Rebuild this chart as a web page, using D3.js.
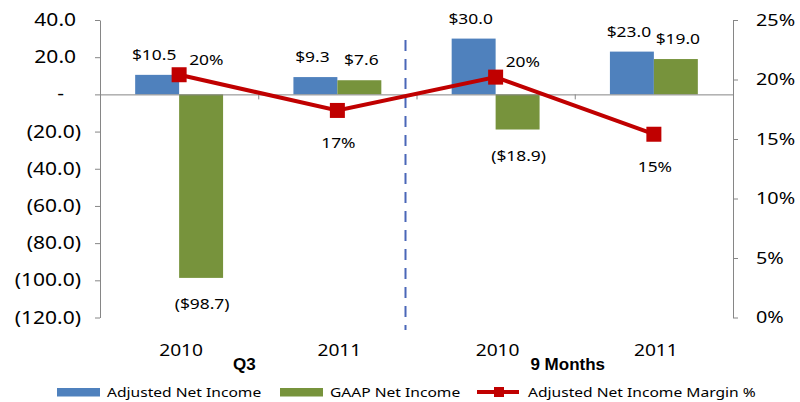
<!DOCTYPE html>
<html lang="en">
<head>
    <meta charset="UTF-8">
    <title>Net Income</title>
    <style>
        body { margin: 0; background: #fff; }
        text { font-family: "Noto Sans", sans-serif; fill: #000; }
    </style>
</head>
<body>
<script type='text/javascript' src='https://d3js.org/d3.v7.min.js'></script>
<script>
    // chart data
    const categories = ["2010", "2011", "2010", "2011"];
    const groups = ["Q3", "9 Months"];
    const adjustedNetIncome = [10.5, 9.3, 30.0, 23.0];
    const gaapNetIncome = [-98.7, 7.6, -18.9, 19.0];
    const marginPct = [20.4, 17.4, 20.2, 15.4];
    const marginLabels = ["20%", "17%", "20%", "15%"];
    const leftTicks = [-120, -100, -80, -60, -40, -20, 0, 20, 40];
    const rightTicks = [0, 5, 10, 15, 20, 25];
    const seriesNames = ["Adjusted Net Income", "GAAP Net Income", "Adjusted Net Income Margin %"];

    const blue = "#4f81bd", green = "#77933c", red = "#c00000", axisGrey = "#868686";
    const SX = 1.2; // the source text is drawn a bit wide

    const width = 800, height = 402;
    const plotLeft = 100, plotRight = 733, plotTop = 20, plotBottom = 317.5;

    const svg = d3.select("body").append("svg")
        .attr("width", width)
        .attr("height", height);

    const x = d3.scaleBand()
        .domain(d3.range(categories.length))
        .range([plotLeft, plotRight]);
    const xSub = d3.scaleBand()
        .domain(["adj", "gaap"])
        .range([0, x.bandwidth()])
        .paddingOuter(0.8);
    const xb = d3.scaleLinear().domain([0, categories.length]).range([plotLeft, plotRight]);
    const yL = d3.scaleLinear().domain([-120, 40]).range([plotBottom, plotTop]);
    const yR = d3.scaleLinear().domain([0, 25]).range([plotBottom, plotTop]);

    // text helper, scaled horizontally
    function label(g, px, py, txt, anchor, size, bold) {
        g.append("g")
            .attr("transform", `translate(${px},${py}) scale(${SX},1)`)
            .append("text")
            .attr("text-anchor", anchor || "middle")
            .style("font-size", (size || 14) + "px")
            .style("font-weight", bold ? "bold" : null)
            .text(txt);
    }

    // bars
    const bars = svg.append("g");
    bars.selectAll(".adj")
        .data(adjustedNetIncome)
        .join("rect")
        .attr("x", (d, i) => x(i) + xSub("adj"))
        .attr("width", xSub.bandwidth())
        .attr("y", d => yL(Math.max(0, d)))
        .attr("height", d => Math.abs(yL(d) - yL(0)))
        .attr("fill", blue);
    bars.selectAll(".gaap")
        .data(gaapNetIncome)
        .join("rect")
        .attr("x", (d, i) => x(i) + xSub("gaap"))
        .attr("width", xSub.bandwidth())
        .attr("y", d => yL(Math.max(0, d)))
        .attr("height", d => Math.abs(yL(d) - yL(0)))
        .attr("fill", green);

    // x axis line with category boundary ticks
    svg.append("g")
        .attr("transform", `translate(0,${yL(0)})`)
        .call(d3.axisBottom(xb).tickValues([1, 2, 3]).tickSize(5).tickSizeOuter(0).tickFormat(""))
        .attr("color", axisGrey);

    // left axis
    const fmt = d3.format(".1f");
    const leftAxis = svg.append("g")
        .attr("transform", `translate(${plotLeft},0)`)
        .call(d3.axisLeft(yL).tickValues(leftTicks).tickSize(5).tickSizeOuter(0)
            .tickFormat(v => v === 0 ? "-" : v < 0 ? "(" + fmt(-v) + ")" : fmt(v)))
        .attr("color", axisGrey);
    leftAxis.selectAll("text")
        .attr("x", d => (d === 0 ? -36 : d < 0 ? -19 : -24) / SX)
        .attr("transform", `scale(${SX},1)`)
        .style("font-size", "17.5px")
        .style("font-family", "Noto Sans")
        .attr("fill", "#000");

    // right axis
    const rightAxis = svg.append("g")
        .attr("transform", `translate(${plotRight},0)`)
        .call(d3.axisRight(yR).tickValues(rightTicks).tickSize(5).tickSizeOuter(0)
            .tickFormat(v => v + "%"))
        .attr("color", axisGrey);
    rightAxis.selectAll("text")
        .attr("x", 23 / SX)
        .attr("transform", `scale(${SX},1)`)
        .style("font-size", "16.5px")
        .style("font-family", "Noto Sans")
        .attr("fill", "#000");

    // dashed separator between Q3 and 9 Months
    svg.append("line")
        .attr("x1", x(2) - 11).attr("x2", x(2) - 11)
        .attr("y1", 40).attr("y2", 330)
        .attr("stroke", "#4a67b8")
        .attr("stroke-width", 2)
        .attr("stroke-dasharray", "11,8");

    // margin line
    const line = d3.line()
        .x((d, i) => x(i) + x.bandwidth() / 2)
        .y(d => yR(d));
    svg.append("path")
        .datum(marginPct)
        .attr("fill", "none")
        .attr("stroke", red)
        .attr("stroke-width", 4)
        .attr("d", line);
    svg.selectAll(".mk")
        .data(marginPct)
        .join("rect")
        .attr("x", (d, i) => x(i) + x.bandwidth() / 2 - 7.5)
        .attr("y", d => yR(d) - 7.5)
        .attr("width", 15)
        .attr("height", 15)
        .attr("fill", red);

    // data labels
    const lbl = svg.append("g");
    const money = v => v < 0 ? "($" + fmt(-v) + ")" : "$" + fmt(v);
    adjustedNetIncome.forEach((v, i) => {
        label(lbl, x(i) + xSub("adj") + xSub.bandwidth() / 2 - 3, yL(v) - 15, money(v), "middle", 14.5);
    });
    gaapNetIncome.forEach((v, i) => {
        const cx = x(i) + xSub("gaap") + xSub.bandwidth() / 2;
        if (v < 0) label(lbl, cx + 1, yL(v) + 31, money(v), "middle", 14.5);
        else label(lbl, cx + 2, yL(v) - 15, money(v), "middle", 14.5);
    });
    marginPct.forEach((v, i) => {
        const cx = x(i) + x.bandwidth() / 2;
        if (i % 2 === 0) label(lbl, cx + 10, yR(v) - 10, marginLabels[i], "start", 14.5);
        else label(lbl, cx + 1, yR(v) + 38, marginLabels[i], "middle", 14.5);
    });

    // category labels
    categories.forEach((c, i) => {
        label(svg, x(i) + x.bandwidth() / 2 + 2, 356, c, "middle", 16);
    });
    svg.append("g").selectAll("g")
        .data(groups)
        .join("g")
        .each(function (d, i) {
            const gx = x(i * 2) + x.bandwidth() + (i === 0 ? -14 : -7);
            d3.select(this).append("text")
                .attr("x", gx)
                .attr("y", 370)
                .attr("text-anchor", "middle")
                .style("font-family", "Liberation Sans, Arial, sans-serif")
                .style("font-weight", "bold")
                .style("font-size", "17px")
                .text(d);
        });

    // legend
    const legend = svg.append("g");
    const legendX = [57, 280, 477];
    legend.append("rect").attr("x", legendX[0]).attr("y", 388).attr("width", 43).attr("height", 8.5).attr("fill", blue);
    legend.append("rect").attr("x", legendX[1]).attr("y", 388).attr("width", 43).attr("height", 8.5).attr("fill", green);
    legend.append("line")
        .attr("x1", legendX[2]).attr("x2", legendX[2] + 42)
        .attr("y1", 392).attr("y2", 392)
        .attr("stroke", red).attr("stroke-width", 4);
    legend.append("rect").attr("x", legendX[2] + 17).attr("y", 387).attr("width", 10).attr("height", 10).attr("fill", red);
    seriesNames.forEach((s, i) => {
        label(legend, legendX[i] + (i === 2 ? 51 : 50), 397, s, "start", 13);
    });
</script>
</body>
</html>
